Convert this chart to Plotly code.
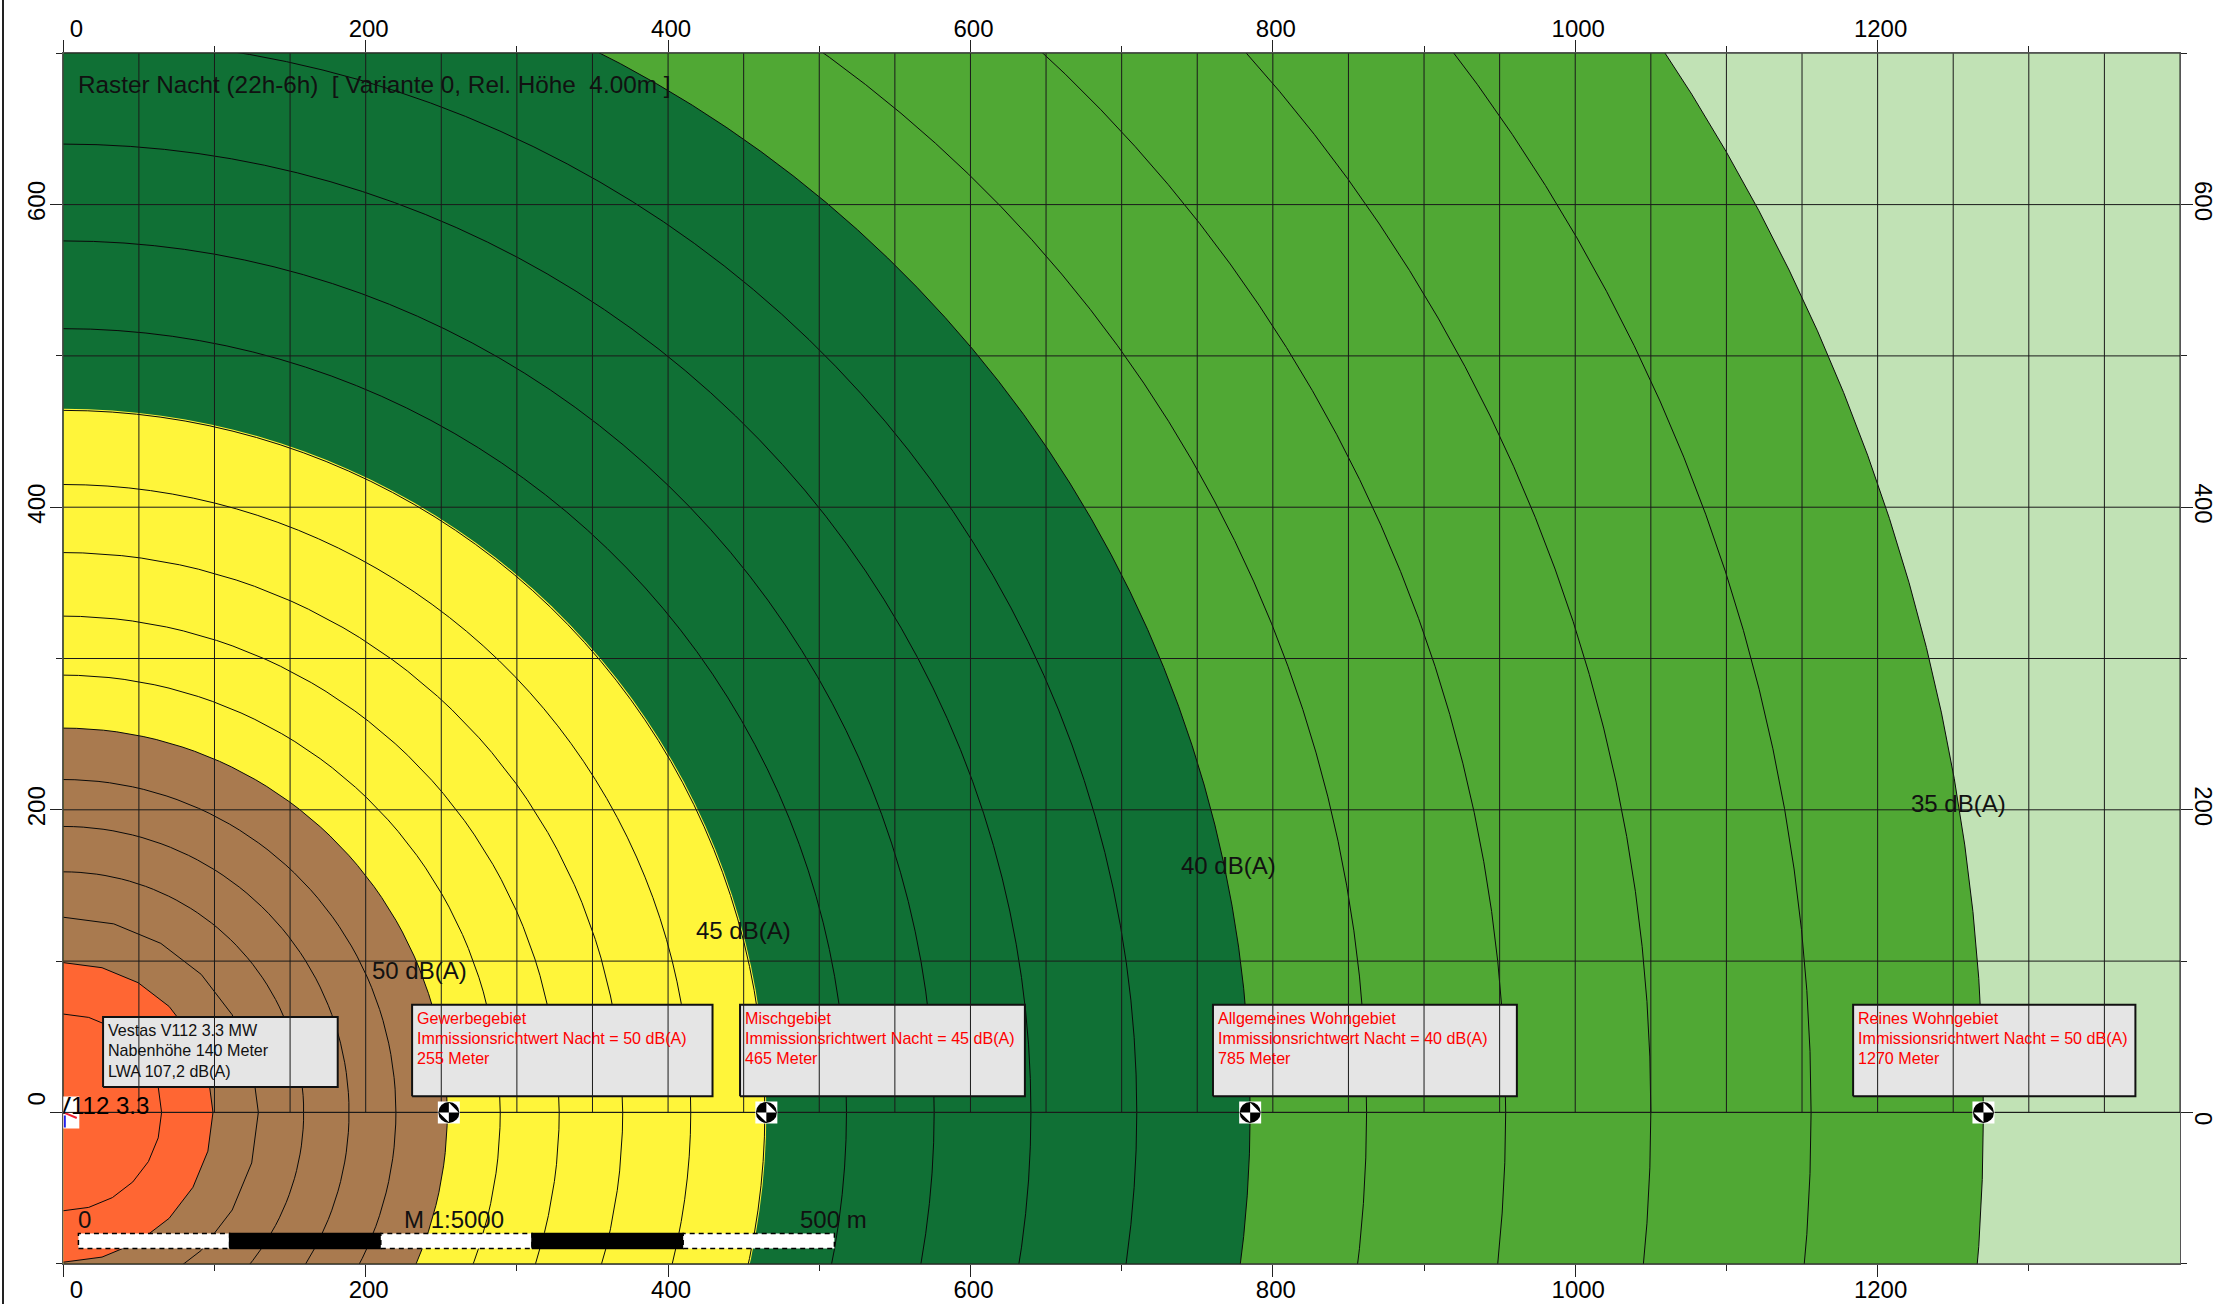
import numpy as np
import plotly.graph_objects as go

# ---- data ----
BAND_RADII = [1270, 785, 465, 254, 99]
BAND_COLORS = ["#50a834", "#107035", "#fff53a", "#a97a4f", "#ff6633"]
OUTER_COLOR = "#c1e2b5"
CONTOUR_RADII = [65, 99, 129, 159, 189, 220, 254, 289, 328, 370, 415, 464, 518, 576, 640,
                 710, 785, 862, 954, 1050, 1156, 1270]
X_GRID = list(range(0, 1401, 50))
Y_GRID = list(range(-100, 701, 100))
X_TICKS = [0, 200, 400, 600, 800, 1000, 1200]
Y_TICKS = [0, 200, 400, 600]
ISO_LABELS = ["50 dB(A)", "45 dB(A)", "40 dB(A)", "35 dB(A)"]
ISO_X = [203, 417, 738, 1221]
ISO_Y = [94, 120, 163, 204]
STATION_X = [255, 465, 785, 1270]
STATION_Y = [0, 0, 0, 0]
BOX_LINES = [
    ["Vestas V112 3.3 MW", "Nabenhöhe 140 Meter", "LWA 107,2 dB(A)"],
    ["Gewerbegebiet", "Immissionsrichtwert Nacht = 50 dB(A)", "255 Meter"],
    ["Mischgebiet", "Immissionsrichtwert Nacht = 45 dB(A)", "465 Meter"],
    ["Allgemeines Wohngebiet", "Immissionsrichtwert Nacht = 40 dB(A)", "785 Meter"],
    ["Reines Wohngebiet", "Immissionsrichtwert Nacht = 50 dB(A)", "1270 Meter"],
]
BOX_X0 = [26.3, 230.7, 447.6, 760.4, 1183.8]
BOX_X1 = [181.5, 429.4, 636.0, 961.4, 1370.5]
BOX_Y0 = [16.8, 10.6, 10.6, 10.6, 10.6]
BOX_Y1 = [63.1, 71.2, 71.2, 71.2, 71.2]
BOX_COLORS = ["#111111", "#ff0000", "#ff0000", "#ff0000", "#ff0000"]
SCALE_EDGES = [10, 110, 210, 310, 410, 510]
SCALE_Y = [-90, -80]
TITLE = "Raster Nacht (22h-6h)  [ Variante 0, Rel. Höhe  4.00m ]"

W, H = 2218, 1304
PX_L, PX_R, PX_T, PX_B = 63.3, 2180.0, 53.3, 1263.7
FONT = "Liberation Sans"


def arc(r):
    step = 15 if r <= 130 else 2
    t = np.radians(np.arange(-90, 90 + step, step))
    return r * np.cos(t), r * np.sin(t)


fig = go.Figure()

for r, c in zip(BAND_RADII, BAND_COLORS):
    x, y = arc(r)
    fig.add_trace(go.Scatter(x=list(x) + [0, x[0]], y=list(y) + [0, y[0]], mode="lines",
                             fill="toself", fillcolor=c, line=dict(width=0), hoverinfo="skip"))
for r in CONTOUR_RADII:
    x, y = arc(r)
    fig.add_trace(go.Scatter(x=x, y=y, mode="lines", line=dict(color="#0a0a0a", width=1), hoverinfo="skip"))

# boxes
for x0, x1, y0, y1 in zip(BOX_X0, BOX_X1, BOX_Y0, BOX_Y1):
    fig.add_trace(go.Scatter(x=[x0, x1, x1, x0, x0], y=[y0, y0, y1, y1, y0], mode="lines", fill="toself",
                             fillcolor="#e5e5e5", line=dict(color="#111111", width=2), hoverinfo="skip"))

# grid above everything below
gx, gy = [], []
for v in X_GRID:
    gx += [v, v, None]
    gy += [0, 700, None]
for v in Y_GRID:
    gx += [0, 1400, None]
    gy += [v, v, None]
fig.add_trace(go.Scatter(x=gx, y=gy, mode="lines", line=dict(color="#1a1a1a", width=1), hoverinfo="skip"))

# scale bar
for i in range(len(SCALE_EDGES) - 1):
    a, b = SCALE_EDGES[i], SCALE_EDGES[i + 1]
    dark = i % 2 == 1
    fig.add_trace(go.Scatter(x=[a, b, b, a, a], y=[SCALE_Y[0], SCALE_Y[0], SCALE_Y[1], SCALE_Y[1], SCALE_Y[0]],
                             mode="lines", fill="toself", fillcolor="#000000" if dark else "#ffffff",
                             line=dict(color="#000000", width=1.5, dash="5px,4px" if not dark else "solid"),
                             hoverinfo="skip"))

# turbine symbol
fig.add_trace(go.Scatter(x=[0], y=[0], mode="markers", marker=dict(symbol="square", size=32, color="#ffffff", line=dict(width=0)), hoverinfo="skip"))
fig.add_trace(go.Scatter(x=[0.5, 8.9], y=[-0.2, -3.7], mode="lines", line=dict(color="#ee2030", width=2), hoverinfo="skip"))
fig.add_trace(go.Scatter(x=[1, 1], y=[-2, -10], mode="lines", line=dict(color="#2020ee", width=2), hoverinfo="skip"))
fig.add_trace(go.Scatter(x=[0, 1400], y=[0, 0], mode="lines", line=dict(color="#1a1a1a", width=1), hoverinfo="skip"))
fig.add_trace(go.Scatter(x=[-5.5], y=[-5], mode="text", text=["V112 3.3"], textposition="top right",
                         textfont=dict(family=FONT, size=24, color="#000000"), hoverinfo="skip"))

# receptors
fig.add_trace(go.Scatter(x=STATION_X, y=STATION_Y, mode="markers", marker=dict(symbol="square", size=22, color="#ffffff", line=dict(width=0)), hoverinfo="skip"))
fig.add_trace(go.Scatter(x=STATION_X, y=STATION_Y, mode="markers", marker=dict(symbol="circle", size=21, color="#000000", line=dict(width=0)), hoverinfo="skip"))
fig.add_trace(go.Scatter(x=STATION_X, y=STATION_Y, mode="markers", marker=dict(symbol="hourglass", angle=45, size=14, color="#ffffff", line=dict(width=0)), hoverinfo="skip"))

# top / right axes carrier
fig.add_trace(go.Scatter(x=[0], y=[0], xaxis="x2", yaxis="y2", mode="markers", marker=dict(opacity=0), hoverinfo="skip"))

ann = []
LINE_STEP = 13.4
for lines, x0, y1, c in zip(BOX_LINES, BOX_X0, BOX_Y1, BOX_COLORS):
    for i, txt in enumerate(lines):
        ann.append(dict(x=x0 + 2, y=y1 - 1.5 - i * LINE_STEP, xref="x", yref="y", xanchor="left", yanchor="top",
                        align="left", text=txt, showarrow=False, font=dict(family=FONT, size=16.1, color=c)))
for txt, x, y in zip(ISO_LABELS, ISO_X, ISO_Y):
    ann.append(dict(x=x, y=y, xref="x", yref="y", xanchor="left", yanchor="middle", text=txt, showarrow=False,
                    font=dict(family=FONT, size=24, color="#111111")))
ann.append(dict(x=8.4, y=679.6, xref="x", yref="y", xanchor="left", yanchor="middle", text=TITLE, showarrow=False,
                font=dict(family=FONT, size=24.3, color="#111111")))
ann.append(dict(x=8.4, y=-71, xref="x", yref="y", xanchor="left", yanchor="middle", text="0", showarrow=False,
                font=dict(family=FONT, size=24, color="#111111")))
ann.append(dict(x=224, y=-71, xref="x", yref="y", xanchor="left", yanchor="middle", text="M 1:5000", showarrow=False,
                font=dict(family=FONT, size=24, color="#111111")))
ann.append(dict(x=486, y=-71, xref="x", yref="y", xanchor="left", yanchor="middle", text="500 m", showarrow=False,
                font=dict(family=FONT, size=24, color="#111111")))

NB = "\u00a0\u00a0\u00a0"
x_text = [NB + "0" if v == 0 else str(v) for v in X_TICKS]
y_text = [NB + "0" if v == 0 else str(v) for v in Y_TICKS]
common = dict(showgrid=False, zeroline=False, automargin=False, ticks="outside", ticklen=12, tickwidth=1, tickcolor="#222222",
              showline=True, linecolor="#555555", linewidth=1, tickfont=dict(family=FONT, size=24, color="#000000"))
xc = dict(common, range=[0, 1400], domain=[PX_L / W, PX_R / W], tickmode="array", tickvals=X_TICKS, ticktext=x_text,
          tickangle=0, ticklabelshift=3,
          minor=dict(tickmode="array", tickvals=list(range(100, 1400, 200)), ticks="outside", ticklen=6, tickcolor="#222222", tickwidth=1))
yc = dict(common, range=[-100, 700], domain=[1 - PX_B / H, 1 - PX_T / H], tickmode="array", tickvals=Y_TICKS, ticktext=y_text,
          minor=dict(tickmode="array", tickvals=[-100, 100, 300, 500, 700], ticks="outside", ticklen=6, tickcolor="#222222", tickwidth=1))

fig.update_layout(
    width=W, height=H, margin=dict(l=0, r=0, t=0, b=0), autosize=False, showlegend=False,
    paper_bgcolor="#ffffff", plot_bgcolor=OUTER_COLOR,
    xaxis=dict(xc, side="bottom", anchor="y", ticklabelstandoff=-8),
    xaxis2=dict(xc, side="top", anchor="y", overlaying="x", ticklabelstandoff=-6),
    yaxis=dict(yc, side="left", anchor="x", tickangle=-90, ticklabelstandoff=-4),
    yaxis2=dict(yc, side="right", anchor="x", overlaying="y", tickangle=90, ticklabelstandoff=-8),
    annotations=ann,
    shapes=[dict(type="line", xref="paper", yref="paper", x0=3 / W, x1=3 / W, y0=0, y1=1,
                 line=dict(color="#222222", width=2))],
)
fig.write_html("out.html", config=dict(displayModeBar=False),
               post_script="document.body.style.margin='0';document.documentElement.style.overflow='hidden';")
